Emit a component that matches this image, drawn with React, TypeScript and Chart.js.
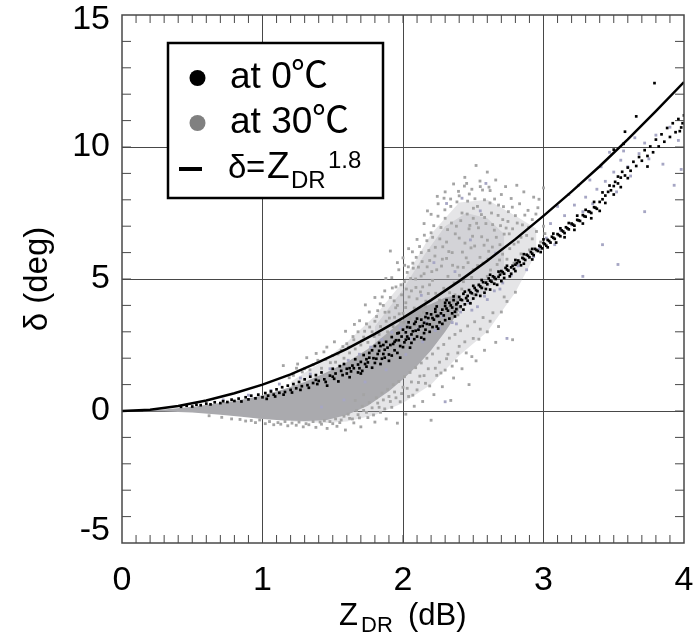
import React, { useEffect, useRef } from "react";
import { Chart, registerables } from "chart.js";

Chart.register(...registerables);

const curveX = [0, 0.2, 0.4, 0.6, 0.8, 1, 1.2, 1.4, 1.6, 1.8, 2, 2.2, 2.4, 2.6, 2.8, 3, 3.2, 3.4, 3.6, 3.8, 4];
const curveY = [0, 0.05, 0.19, 0.4, 0.67, 1, 1.39, 1.85, 2.35, 2.92, 3.53, 4.2, 4.92, 5.69, 6.51, 7.39, 8.31, 9.27, 10.29, 11.36, 12.46];

const hazeX = [1.2, 1.3, 1.45, 1.6, 1.8, 2, 2.2, 2.4, 2.6, 2.8, 2.95];
const hazeTop = [1.1, 1.45, 1.95, 2.6, 3.6, 4.9, 6.7, 7.9, 8, 7.4, 6.9];
const hazeBottom = [-0.4, -0.42, -0.45, -0.4, -0.15, 0.3, 1, 2.1, 3, 4.5, 6];

const coreX = [0.15, 0.3, 0.5, 0.7, 0.85, 1, 1.15, 1.3, 1.45, 1.6, 1.75, 1.9, 2, 2.1, 2.2, 2.3, 2.4];
const coreTop = [0.01, 0.06, 0.16, 0.3, 0.43, 0.6, 0.82, 1.1, 1.45, 1.85, 2.35, 3, 3.45, 3.85, 4.05, 4.3, 4.4];
const coreBottom = [-0.01, -0.02, -0.06, -0.14, -0.22, -0.3, -0.36, -0.38, -0.35, -0.15, 0.2, 0.75, 1.2, 1.7, 2.3, 3, 3.8];

const cloudX = [1.8, 1.9, 2, 2.15, 2.3, 2.45, 2.6, 2.72];
const cloudTop = [3.2, 3.9, 4.6, 5.9, 7, 7.5, 7.3, 6.7];
const cloudBottom = [2.2, 2.5, 2.9, 3.3, 3.6, 4, 4.6, 5.4];

const grayUpper = [
  1.22,1.35, 1.3,1.6, 1.36,1.75, 1.42,1.62, 1.45,1.95, 1.5,2.1, 1.52,1.85, 1.56,2.3, 1.58,2, 1.6,2.55,
  1.62,2.2, 1.65,2.7, 1.66,2.35, 1.68,3, 1.7,2.5, 1.72,2.8, 1.74,3.3, 1.75,2.6, 1.76,3.75, 1.78,3,
  1.8,3.4, 1.8,4.3, 1.82,3.8, 1.83,2.9, 1.84,3.2, 1.86,4, 1.87,4.55, 1.88,3.4, 1.89,3, 1.9,3.75,
  1.91,4.3, 1.92,5.05, 1.93,3.2, 1.94,3.55, 1.95,4.7, 1.96,4, 1.97,5.35, 1.98,3.4, 1.99,4.4, 2,5.8,
  2,3.7, 2.01,4.9, 2.02,4.1, 2.03,5.25, 2.04,6.15, 2.05,3.5, 2.06,4.55, 2.07,5.6, 2.08,3.9, 2.09,5,
  2.1,6.5, 2.1,4.25, 2.11,5.45, 2.12,3.6, 2.13,6, 2.14,4.7, 2.15,7.1, 2.15,5.2, 2.16,3.95, 2.17,6.45,
  2.18,4.45, 2.19,5.7, 2.2,7.45, 2.2,6.75, 2.21,4.95, 2.22,3.7, 2.23,6.2, 2.24,5.35, 2.25,7.85, 2.26,4.2,
  2.27,6.95, 2.28,5.75, 2.29,4.65, 2.3,8.3, 2.3,7.3, 2.31,6.4, 2.32,5.1, 2.33,3.95, 2.34,7.75, 2.35,6,
  2.36,8.6, 2.37,4.4, 2.38,7, 2.39,5.45, 2.4,8.15, 2.4,6.55, 2.41,3.9, 2.42,7.5, 2.43,4.9, 2.44,8.85, 2.45,5.8,
  2.46,7.95, 2.47,6.9, 2.48,4.5, 2.49,8.4, 2.5,7.3, 2.5,5.35, 2.51,6.25, 2.52,9.3, 2.53,7.75, 2.54,4.75, 2.55,8.5,
  2.56,6.6, 2.57,5.6, 2.58,8, 2.59,7.1, 2.6,9.05, 2.6,5.1, 2.61,6.05, 2.62,8.35, 2.63,7.5, 2.64,4.85, 2.65,6.85,
  2.66,8.75, 2.67,5.55, 2.68,7.8, 2.69,6.3, 2.7,8.2, 2.7,5.2, 2.71,7.25, 2.72,6.7, 2.73,8.5, 2.74,5.75, 2.75,7.55,
  2.76,6.15, 2.77,8.05, 2.78,6.9, 2.79,5.6, 2.8,7.4, 2.81,8.55, 2.82,6.4, 2.83,7.85, 2.84,5.95, 2.85,7.05, 2.86,8.3,
  2.88,6.65, 2.89,7.6, 2.9,6.1, 2.92,7.25, 2.93,8.1, 2.95,6.8, 2.96,7.7, 2.98,6.4, 3,7, 3,8.45,
];

const grayCloudExtra = [
  2.043,4.32, 2.317,6.87, 2.581,7.33, 2.129,5.11, 2.472,8.22, 2.266,3.42, 2.694,7.02, 2.058,3.18, 2.353,5.52, 2.537,6.94,
  2.184,6.08, 2.411,7.21, 2.623,5.34, 2.092,4.68, 2.298,7.62, 2.756,6.71, 2.146,3.74, 2.448,4.26, 2.512,8.04, 2.227,5.87,
  2.364,4.85, 2.601,6.47, 2.073,5.41, 2.489,5.06, 2.339,8.03, 2.652,8.03, 2.197,3.28, 2.423,6.02, 2.548,5.82, 2.118,6.23,
  2.283,6.22, 2.709,5.94, 2.391,3.64, 2.566,8.37, 2.163,4.16, 2.457,7.46, 2.024,4.62, 2.332,4.48, 2.636,6.21, 2.249,7.38,
  2.507,4.41, 2.174,7.58, 2.402,5.14, 2.677,7.41, 2.086,3.26, 2.524,7.11, 2.301,3.86, 2.593,4.88, 2.211,6.58, 2.437,8.52,
  2.136,5.66, 2.372,6.71, 2.619,7.88, 2.054,5.02, 2.274,5.49, 2.495,6.62, 2.734,6.93, 2.189,4.78, 2.345,7.12, 2.558,7.44,
  2.102,3.41, 2.418,4.62, 2.664,6.58, 2.233,4.46, 2.476,7.03, 2.31,5.78, 2.612,8.48, 2.152,6.66, 2.384,7.92, 2.531,5.51,
  2.067,6.03, 2.244,8.13, 2.463,5.62, 2.687,5.72, 2.205,5.28, 2.358,3.62, 2.577,6.28, 2.124,4.51, 2.441,6.36, 2.292,8.06,
  2.019,3.92, 2.501,7.68, 2.638,7.06, 2.172,5.46, 2.395,8.32, 2.326,6.04, 2.548,8.71, 2.094,5.82, 2.262,6.52, 2.429,5.44,
  2.715,7.74, 2.158,3.52, 2.484,6.18, 2.373,4.16, 2.605,5.75, 2.038,5.46, 2.219,7.02, 2.453,8.62, 2.747,7.18, 2.569,4.67,
  1.948,3.91, 1.986,4.78, 1.924,4.66, 2.006,3.36, 1.973,3.68, 1.903,3.52, 1.937,4.17, 1.872,3.74, 1.852,4.32, 2.012,5.52,
  1.812,3.58, 1.795,2.82, 1.838,4.06, 1.763,3.18, 1.727,3.02, 1.708,2.66, 1.691,3.42, 1.644,2.82, 1.613,2.42, 1.572,2.44,
  1.537,2.16, 1.483,1.83, 1.437,2.24, 1.394,1.92, 1.338,1.56, 1.283,1.48, 1.25,1.78, 1.19,1.26, 1.96,5.62, 1.878,5.02,
  1.732,4.02, 1.654,3.28, 1.591,3.02, 1.512,2.62, 1.458,2.42, 1.382,2.18, 1.315,2.02, 1.242,1.62, 1.148,1.72, 1.91,6.06,
  2.79,6.32, 2.813,7.12, 2.84,6.58, 2.867,7.42, 2.894,6.96, 2.92,6.52, 2.946,7.46, 2.968,8.02, 3.01,6.72, 2.778,7.72,
];

const grayLower = [
  0.88,-0.38, 0.95,-0.44, 1.02,-0.48, 1.08,-0.52, 1.13,-0.5, 1.18,-0.56, 1.24,-0.54, 1.29,-0.6, 1.33,-0.52, 1.38,-0.62,
  1.42,-0.5, 1.46,-0.66, 1.5,-0.48, 1.53,-0.58, 1.56,-0.34, 1.59,-0.72, 1.62,-0.28, 1.65,-0.45, 1.68,-0.14, 1.7,-0.6,
  1.72,0.02, 1.75,-0.25, 1.78,0.12, 1.8,-0.42, 1.82,0.3, 1.84,-0.05, 1.86,0.42, 1.88,-0.3, 1.9,0.55, 1.92,0.14,
  1.94,0.72, 1.96,-0.46, 1.98,0.35, 2,0.9, 2.02,-0.12, 2.04,0.55, 2.06,1.1, 2.08,0.18, 2.1,0.8, 2.12,1.32,
  2.14,0.36, 2.16,1.05, 2.18,1.6, 2.2,-0.35, 2.22,0.62, 2.24,1.35, 2.26,1.85, 2.28,0.92, 2.3,1.55, 2.32,2.15,
  2.34,0.4, 2.36,1.25, 2.38,1.9, 2.4,2.45, 2.42,1.6, 2.45,2.2, 2.47,1, 2.5,2.75, 2.52,1.9, 2.55,3.1,
  2.58,2.3, 2.62,3.4, 2.66,2.6, 2.7,3.75, 2.74,4.15, 2.78,2.7, 2.8,4.5,
  0.62,-0.18, 0.71,-0.24, 0.78,-0.3, 0.84,-0.32, 0.92,-0.36, 0.98,-0.34, 1.05,-0.4, 1.11,-0.44, 1.16,-0.4, 1.21,-0.46,
  1.26,-0.42, 1.31,-0.48, 1.36,-0.4, 1.41,-0.42, 1.44,-0.36, 1.48,-0.4, 1.52,-0.3, 1.55,-0.44, 1.58,-0.2, 1.61,-0.12,
  1.64,-0.3, 1.67,0.02, 1.69,-0.26, 1.71,0.18, 1.74,-0.05, 1.76,0.32, 1.79,-0.15, 1.81,0.5, 1.83,0.14, 1.85,0.68,
  1.87,0.08, 1.89,0.82, 1.91,0.36, 1.93,1, 1.95,0.5, 1.97,1.12, 1.99,0.66, 2.01,1.3, 2.03,0.86, 2.05,1.46,
  2.07,0.6, 2.09,1.64, 2.11,1.08, 2.13,1.82, 2.15,1.34, 2.17,2, 2.19,0.95, 2.21,2.16, 2.23,1.62, 2.25,2.38,
  2.27,1.44, 2.29,2.52, 2.31,1.98, 2.33,2.76, 2.35,1.7, 2.37,2.9, 2.39,2.2, 2.41,3.04, 2.44,2.62, 2.46,3.22,
  2.49,2.06, 2.51,3.38, 2.54,2.72, 2.57,3.54, 2.6,3, 2.64,3.72, 2.68,3.2, 2.72,4.32, 1.72,0.62, 1.66,0.4,
];

const grayBluish = [
  0.72,0.42, 0.9,0.6, 1.06,0.78, 1.12,1.02, 1.27,1.25, 1.34,1.4, 1.48,1.6, 1.61,1.92, 1.69,2.15, 1.77,2.42,
  1.85,2.7, 1.92,2.98, 1.98,3.15, 2.05,2.75, 2.11,3.1, 2.16,3.35, 2.23,3.05, 2.28,3.6, 2.35,3.35, 2.41,3.75,
  2.47,4.1, 2.53,3.95, 2.58,4.35, 2.65,4.55, 2.71,4.85, 2.77,5.15, 2.82,5.5, 2.88,5.35, 2.93,5.85, 2.97,6.15,
  3.02,6.55, 3.05,7.1, 3.08,6.3, 3.1,7.75, 3.12,6.85, 3.15,7.4, 3.18,8.2, 3.2,7.05, 3.22,7.8, 3.25,8.55,
  3.28,7.55, 3.3,8.1, 3.33,8.75, 3.35,7.85, 3.38,8.4, 3.41,9.25, 3.44,8.7, 3.47,9.8, 3.5,9.05, 3.52,8.3,
  3.55,9.5, 3.57,9.85, 3.6,9.25, 3.62,8.9, 3.65,10.35, 3.68,9.75, 3.72,10.15, 3.75,9.55, 3.8,10.45, 3.85,9.35,
  3.9,10.75, 3.93,8.55, 3.96,10.25, 3.98,9.15, 3.28,5.1, 3.42,6.3, 3.53,5.55, 3.72,7.55, 2.74,2.75, 2.3,0.35,
  1.42,0.15, 1.58,0.42, 1.73,1.1, 1.88,1.56, 2.02,2.14, 2.14,2.62, 2.26,3.14, 2.38,3.3, 2.49,3.82, 2.6,4.22,
  2.69,4.62, 2.37,5.28, 2.48,6.48, 2.55,7.58, 2.22,5.62, 2.13,4.38, 2.66,5.98, 2.31,7.86, 2.42,8.06, 2.59,8.62,
];

const blackRidge = [
  0.42,0.16, 0.46,0.2, 0.5,0.17, 0.53,0.24, 0.56,0.22, 0.6,0.28, 0.63,0.25, 0.66,0.33, 0.7,0.3, 0.72,0.37,
  0.75,0.34, 0.78,0.43, 0.8,0.38, 0.83,0.47, 0.85,0.36, 0.88,0.52, 0.9,0.44, 0.92,0.58, 0.95,0.48, 0.97,0.62,
  1,0.52, 1.02,0.68, 1.04,0.58, 1.06,0.74, 1.08,0.62, 1.1,0.82, 1.12,0.69, 1.14,0.9, 1.16,0.72, 1.18,0.96,
  1.2,0.8, 1.22,1.02, 1.24,0.86, 1.26,1.1, 1.28,0.94, 1.3,1.2, 1.32,0.98, 1.34,1.3, 1.36,1.06, 1.38,1.36,
  1.4,1.14, 1.42,1.46, 1.44,1.2, 1.46,0.96, 1.48,1.34, 1.5,1.6, 1.52,1.42, 1.54,1.12, 1.56,1.52, 1.58,1.78,
  1.6,1.6, 1.62,1.28, 1.64,1.72, 1.66,1.96, 1.68,1.46, 1.7,1.86, 1.72,2.12, 1.74,1.68, 1.76,2.02, 1.78,2.3,
  1.8,1.82, 1.82,2.16, 1.84,2.46, 1.85,1.98, 1.87,2.32, 1.88,2.62, 1.9,2.14, 1.91,2.5, 1.92,2.8, 1.94,2.3,
  1.95,2.68, 1.96,2.94, 1.98,2.46, 1.99,2.82, 2,3.08, 2.01,2.6, 2.02,2.98, 2.04,2.74, 2.05,3.16, 2.06,2.9,
  2.08,3.3, 2.09,3.04, 2.1,2.82, 2.12,3.2, 2.13,3.46, 2.15,3.34, 2.16,3.08, 2.18,3.52, 2.19,3.28, 2.2,3.66,
  2.22,3.46, 2.23,3.76, 2.25,3.6, 2.26,3.36, 2.28,3.84, 2.29,3.62, 2.3,3.98, 2.32,3.8, 2.33,4.1, 2.35,3.92,
  2.36,4.2, 2.37,3.76, 2.39,4.1, 2.4,4.32, 2.42,4.2, 2.43,4.44, 2.44,4.04, 2.46,4.36, 2.47,4.58, 2.49,4.46,
  2.5,4.26, 2.51,4.66, 2.53,4.54, 2.54,4.78, 2.56,4.66, 2.57,4.88, 2.58,4.48, 2.6,4.8, 2.61,5.02, 2.63,4.9,
  2.64,5.1, 2.66,5, 2.67,4.78, 2.69,5.16, 2.7,5.3, 2.72,5.2, 2.73,5.42, 2.75,5.32, 2.76,5.1, 2.78,5.5,
  2.79,5.38, 2.81,5.6, 2.82,5.7, 2.84,5.52, 2.85,5.8, 2.87,5.72, 2.88,5.92, 2.9,5.82, 2.91,6.02, 2.93,5.9,
  2.94,6.14, 2.96,6.06, 2.97,6.26, 2.99,6.16, 3,6.36, 3.02,6.26, 3.03,6.48, 3.05,6.38, 3.06,6.6, 3.08,6.52,
  3.1,6.7, 3.12,6.62, 3.13,6.84, 3.15,6.74, 3.16,6.96, 3.18,6.88, 3.2,7.1, 3.22,7.02, 3.24,7.24, 3.26,7.2,
  3.28,7.42, 3.3,7.36, 3.32,7.56, 3.34,7.5, 3.36,7.72, 3.38,7.66, 3.4,7.92, 3.42,8.02, 3.44,8.16, 3.46,8.3,
  3.48,8.36, 3.5,8.52, 3.51,8.68, 3.53,8.62, 3.55,8.84, 3.56,9.06, 3.58,8.92, 3.6,9.22, 3.62,9.1, 3.64,9.44,
  3.66,9.28, 3.68,9.62, 3.7,9.48, 3.72,9.88, 3.74,9.66, 3.76,10.02, 3.78,9.8, 3.8,10.28, 3.82,10.02, 3.84,10.48,
  3.86,10.2, 3.88,10.72, 3.9,10.38, 3.92,10.9, 3.94,10.56, 3.96,11.06, 3.98,10.74, 4,11.2, 3.99,10.9, 3.97,10.6,
  3.66,11.16, 3.58,10.58, 3.57,10.12, 3.79,12.42, 3.74,9.26, 3.5,9.9,
];

const blackFill = [
  1.03,0.46, 1.09,0.55, 1.15,0.62, 1.21,0.7, 1.27,0.8, 1.33,0.88, 1.39,1.02, 1.45,1.1, 1.51,1.22, 1.57,1.36,
  1.63,1.5, 1.69,1.62, 1.75,1.84, 1.81,1.98, 1.83,2.28, 1.86,2.16, 1.89,2.4, 1.93,2.54, 1.97,2.68, 2.03,2.82,
  2.07,3.02, 2.11,3.08, 2.14,3.22, 2.17,3.3, 2.21,3.52, 2.24,3.6, 2.27,3.7, 2.31,3.88, 2.34,4, 2.38,4.04,
  2.41,4.22, 2.45,4.28, 2.48,4.5, 2.52,4.58, 2.55,4.72, 2.59,4.86, 2.62,4.94, 2.65,5.06, 2.68,5.08, 2.71,5.26,
  2.74,5.36, 2.77,5.44, 2.8,5.54, 2.83,5.64, 2.86,5.76, 2.89,5.88, 2.92,5.96, 2.95,6.1, 2.98,6.22, 3.01,6.32,
  3.04,6.44, 3.07,6.56, 3.11,6.66, 3.14,6.8, 3.17,6.92, 3.21,7.06, 3.25,7.22, 3.29,7.38, 3.33,7.54, 3.37,7.7,
  1.76,2.2, 1.92,2.1, 2,2.42, 2.06,2.58, 2.13,2.78, 2.19,3, 2.24,3.2, 2.3,3.44, 2.37,3.58, 2.43,3.84,
  2.48,4.08, 2.55,4.36, 2.62,4.6, 2.7,4.92, 2.77,5.2, 2.04,3.36, 2.1,3.5, 2.17,3.7, 2.24,3.96, 2.31,4.2,
  1.55,1.7, 1.65,1.62, 1.71,1.52, 1.78,1.64, 1.84,1.78, 1.9,1.9, 1.96,2.2, 1.5,1.3, 1.6,1.42, 1.38,1.18,
  1.73,1.78, 1.79,2, 1.86,2.5, 1.94,2.62, 2.02,2.7, 2.08,2.72, 2.15,2.95, 2.21,3.18, 2.28,3.3, 2.35,3.7,
  2.41,3.96, 2.46,4.18, 2.52,4.4, 2.59,4.62, 2.65,4.82, 2.72,5.04, 2.8,5.3, 2.86,5.58, 2.92,5.74, 2.98,6.02,
  2.44,4.52, 2.5,4.74, 2.56,4.96, 2.62,5.16, 2.68,5.28, 2.74,5.5, 2.8,5.72, 2.86,5.94, 2.92,6.14, 3,6.5,
  1.97,2.96, 2.03,3.18, 2.09,3.38, 2.16,3.56, 2.23,3.86, 2.3,4.1, 2.36,4.34, 1.68,1.76, 1.74,1.96, 1.83,2.58,
  2.33,3.5, 2.38,3.86, 2.25,3.12, 2.15,2.72, 2.05,2.4, 1.98,2.02, 1.87,2.02, 1.8,2.46, 1.7,1.42, 1.62,1.62,
  3.09,6.38, 3.15,6.58, 3.22,6.86, 3.28,7.1, 3.34,7.3, 3.4,7.58, 3.44,7.88, 3.5,8.2, 3.55,8.48, 3.6,8.82,
  3.03,6.2, 3.07,6.72, 3.12,6.92, 3.18,7.12, 3.24,7.4, 3.3,7.62, 3.36,7.92, 3.42,8.28, 3.47,8.54, 3.53,8.88,
];

const xTickLabels = ["0", "1", "2", "3", "4"];
const yTickLabels: Record<string, string[]> = { "-5": ["-5", ""], "0": ["0"], "5": ["5"], "10": ["10"], "15": ["", "15"] };
const xMinorStep = 0.1;
const yMinorStep = 1;

const pairs = (flat: number[]) => {
  const out: { x: number; y: number }[] = [];
  for (let i = 0; i < flat.length; i += 2) out.push({ x: flat[i], y: flat[i + 1] });
  return out;
};
const zip = (xs: number[], ys: number[]) => xs.map((x, i) => ({ x, y: ys[i] }));

const FONT = '"Liberation Sans", Arial, sans-serif';
const CJK = '"Noto Sans CJK SC", sans-serif';
const AXIS = "#484848";

const decorations = {
  id: "decorations",
  beforeDatasetsDraw(chart: any) {
    const { ctx, chartArea: a, scales } = chart;
    ctx.save();
    ctx.strokeStyle = AXIS;
    ctx.lineWidth = 1;
    ctx.beginPath();
    for (let i = 1; i < 40; i++) {
      const px = scales.x.getPixelForValue(i * xMinorStep);
      ctx.moveTo(px, a.bottom);
      ctx.lineTo(px, a.bottom - 8);
      ctx.moveTo(px, a.top);
      ctx.lineTo(px, a.top + 8);
    }
    for (let v = -4; v < 15; v += yMinorStep) {
      const py = scales.y.getPixelForValue(v);
      ctx.moveTo(a.left, py);
      ctx.lineTo(a.left + 9, py);
      ctx.moveTo(a.right, py);
      ctx.lineTo(a.right - 9, py);
    }
    ctx.stroke();
    ctx.restore();
  },
  afterDraw(chart: any) {
    const { ctx, chartArea: a } = chart;
    ctx.save();
    ctx.strokeStyle = AXIS;
    ctx.lineWidth = 1.5;
    ctx.strokeRect(a.left, a.top, a.right - a.left, a.bottom - a.top);

    ctx.fillStyle = "#ffffff";
    ctx.fillRect(168, 43, 215, 155);
    ctx.strokeStyle = "#000000";
    ctx.lineWidth = 2.5;
    ctx.strokeRect(168, 43, 215, 155);

    ctx.fillStyle = "#000000";
    ctx.beginPath();
    ctx.arc(197.5, 78, 8, 0, Math.PI * 2);
    ctx.fill();
    ctx.fillStyle = "#808080";
    ctx.beginPath();
    ctx.arc(197.5, 123, 8, 0, Math.PI * 2);
    ctx.fill();
    ctx.fillStyle = "#000000";
    ctx.fillRect(179, 167, 23, 4);

    ctx.textBaseline = "alphabetic";
    ctx.textAlign = "left";
    ctx.font = `37px ${FONT}`;
    ctx.fillText("at 0", 230, 88);
    ctx.fillText("at 30", 230, 133);
    ctx.font = `37px ${CJK}`;
    ctx.fillText("℃", 291, 88);
    ctx.fillText("℃", 312, 133);
    ctx.font = `33px ${FONT}`;
    ctx.fillText("δ", 228, 178);
    ctx.fillText("=", 246, 178);
    ctx.font = `37px ${FONT}`;
    ctx.fillText("Z", 267, 178);
    ctx.font = `24px ${FONT}`;
    ctx.fillText("DR", 291, 188);
    ctx.fillText("1.8", 328, 168);

    ctx.font = `31px ${FONT}`;
    ctx.fillText("Z", 339, 625);
    ctx.fillText("(dB)", 408, 625);
    ctx.font = `22px ${FONT}`;
    ctx.fillText("DR", 361, 632);
    ctx.restore();
  },
};

export default function App() {
  const ref = useRef<HTMLCanvasElement>(null);
  useEffect(() => {
    const chart = new Chart(ref.current as HTMLCanvasElement, {
      type: "scatter",
      data: {
        datasets: [
          {
            type: "line",
            order: 6,
            label: "haze top",
            data: zip(hazeX, hazeTop),
            fill: "+1",
            backgroundColor: "rgba(170,170,175,0.3)",
            borderWidth: 0,
            pointRadius: 0,
          },
          { type: "line", order: 6, label: "haze bottom", data: zip(hazeX, hazeBottom), borderWidth: 0, pointRadius: 0 },
          {
            type: "line",
            order: 5,
            label: "cloud top",
            data: zip(cloudX, cloudTop),
            fill: "+1",
            backgroundColor: "rgba(170,170,175,0.3)",
            borderWidth: 0,
            pointRadius: 0,
          },
          { type: "line", order: 5, label: "cloud bottom", data: zip(cloudX, cloudBottom), borderWidth: 0, pointRadius: 0 },
          {
            type: "line",
            order: 4,
            label: "core top",
            data: zip(coreX, coreTop),
            fill: "+1",
            backgroundColor: "#aaaaae",
            borderWidth: 0,
            pointRadius: 0,
          },
          { type: "line", order: 4, label: "core bottom", data: zip(coreX, coreBottom), borderWidth: 0, pointRadius: 0 },
          {
            order: 3,
            label: "at 30℃",
            data: pairs(grayUpper.concat(grayCloudExtra, grayLower)),
            pointStyle: "rect",
            pointRadius: 2,
            borderWidth: 0,
            backgroundColor: "#a4a4a4",
          },
          {
            order: 2,
            label: "at 30℃ tint",
            data: pairs(grayBluish),
            pointStyle: "rect",
            pointRadius: 2,
            borderWidth: 0,
            backgroundColor: "#a6a6c4",
          },
          {
            order: 1,
            label: "at 0℃",
            data: pairs(blackRidge.concat(blackFill)),
            pointStyle: "rect",
            pointRadius: 1.9,
            borderWidth: 0,
            backgroundColor: "#000000",
          },
          {
            type: "line",
            order: 0,
            label: "δ=ZDR^1.8",
            data: zip(curveX, curveY),
            borderColor: "#000000",
            borderWidth: 2.5,
            pointRadius: 0,
            fill: false,
          },
        ],
      } as any,
      options: {
        responsive: false,
        animation: false,
        layout: { padding: { top: 15, right: 9, bottom: 0, left: 0 } },
        plugins: { legend: { display: false }, tooltip: { enabled: false } },
        scales: {
          x: {
            type: "linear",
            min: 0,
            max: 4,
            afterFit: (s: any) => {
              s.height = 93;
              s.paddingLeft = 0;
              s.paddingRight = 0;
            },
            border: { display: false },
            grid: {
              drawTicks: false,
              color: (c: any) => (c.tick.value === 0 || c.tick.value === 4 ? "transparent" : AXIS),
              lineWidth: 1,
            },
            ticks: {
              stepSize: 1,
              maxRotation: 0,
              padding: 17,
              color: "#000",
              font: { family: FONT, size: 34 },
              callback: (v: any) => xTickLabels[v],
            },
          },
          y: {
            type: "linear",
            min: -5,
            max: 15,
            afterFit: (s: any) => {
              s.width = 122;
              s.paddingTop = 0;
              s.paddingBottom = 0;
            },
            border: { display: false },
            grid: {
              drawTicks: false,
              color: (c: any) => (c.tick.value === -5 || c.tick.value === 15 ? "transparent" : AXIS),
              lineWidth: 1,
            },
            title: {
              display: true,
              text: "δ (deg)",
              color: "#000",
              font: { family: FONT, size: 33 },
              padding: { top: 18, bottom: 0 },
            },
            ticks: {
              stepSize: 5,
              padding: 12,
              color: "#000",
              font: (c: any) => ({
                family: FONT,
                size: 34,
                lineHeight: c.tick && c.tick.value === 15 ? "10px" : "24px",
              }),
              callback: (v: any) => yTickLabels[String(v)],
            },
          },
        },
      } as any,
      plugins: [decorations],
    });
    return () => chart.destroy();
  }, []);
  return (
    <div style={{ position: "absolute", left: 0, top: 0, width: 693, height: 636, background: "#fff" }}>
      <canvas ref={ref} width={693} height={636} style={{ display: "block" }} />
    </div>
  );
}
